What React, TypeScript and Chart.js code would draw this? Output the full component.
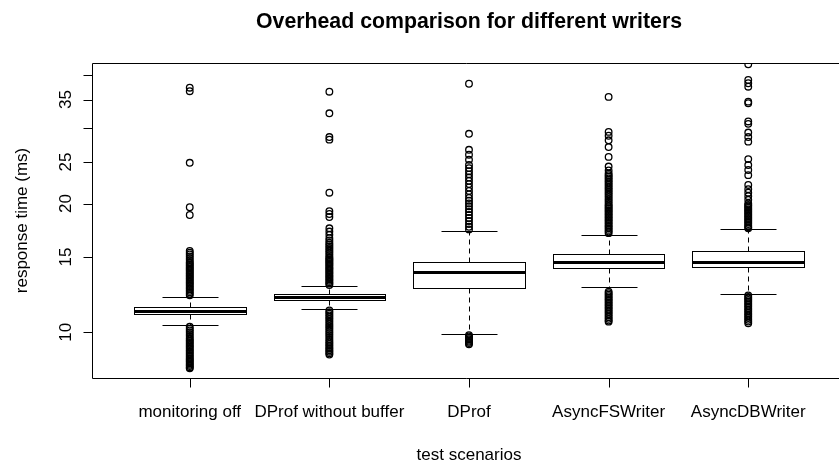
import React, { useEffect, useRef } from "react";
import { Chart, registerables } from "chart.js";

Chart.register(...registerables);

const chartTitle = "Overhead comparison for different writers";
const xAxisTitle = "test scenarios";
const yAxisTitle = "response time (ms)";

const categories = ["monitoring off", "DProf without buffer", "DProf", "AsyncFSWriter", "AsyncDBWriter"];

const lowerWhisker = [10.4, 11.32, 9.91, 12.78, 12.27];
const q1 = [11.02, 11.9, 12.68, 14.12, 14.2];
const median = [11.24, 12.08, 13.82, 14.58, 14.63];
const q3 = [11.48, 12.27, 14.63, 15.24, 15.51];
const upperWhisker = [12.12, 12.86, 17.28, 16.9, 17.43];

const yTicks = [10, 15, 20, 25, 30, 35, 40];
const yTickLabels = ["10", "15", "20", "25", "", "35", ""];

const outMonitoringOff = [
  37.3, 36.6, 24.9, 19.6, 18.8, 15.5, 15.35, 15.2, 15.05, 14.9, 14.75, 14.6, 14.5, 14.4, 14.3, 14.2, 14.1, 14.0,
  13.9, 13.8, 13.7, 13.6, 13.5, 13.4, 13.3, 13.2, 13.1, 13.0, 12.9, 12.8, 12.7, 12.6, 12.5, 12.4, 12.3, 12.2,
  10.3, 10.2, 10.1, 10.0, 9.9, 9.8, 9.7, 9.62, 9.55, 9.48, 9.4, 9.33, 9.26, 9.19, 9.12, 9.05, 8.98, 8.91, 8.84,
  8.77, 8.7, 8.64, 8.58, 8.52, 8.46, 8.4, 8.34, 8.28, 8.24,
];
const outDProfNoBuffer = [
  36.5, 32.5, 28.6, 28.2, 21.2, 19.2, 18.9, 18.6, 17.5, 17.2, 16.9, 16.6, 16.4, 16.2, 16.05, 15.9, 15.75, 15.6,
  15.45, 15.3, 15.15, 15.0, 14.9, 14.8, 14.7, 14.6, 14.5, 14.4, 14.3, 14.2, 14.1, 14.0, 13.9, 13.8, 13.7, 13.6,
  13.5, 13.4, 13.3, 13.2, 13.1, 13.0, 12.9, 11.25, 11.15, 11.05, 10.95, 10.85, 10.75, 10.65, 10.55, 10.45, 10.35,
  10.25, 10.15, 10.05, 9.95, 9.85, 9.75, 9.65, 9.55, 9.47, 9.39, 9.31, 9.23, 9.15, 9.08, 9.01, 8.94, 8.87,
];
const outDProf = [
  38.1, 29.1, 26.7, 26.0, 25.3, 24.6, 24.2, 23.8, 23.4, 23.0, 22.6, 22.2, 21.8, 21.4, 21.0, 20.6, 20.3, 20.0,
  19.7, 19.4, 19.1, 18.8, 18.5, 18.2, 17.9, 17.65, 17.4, 9.85, 9.78, 9.7, 9.63, 9.56, 9.5, 9.44, 9.38,
];
const outAsyncFS = [
  35.5, 29.4, 28.8, 28.1, 27.1, 25.7, 24.4, 23.9, 23.5, 23.3, 23.1, 22.9, 22.7, 22.5, 22.3, 22.1, 21.9, 21.7,
  21.5, 21.3, 21.1, 20.9, 20.7, 20.5, 20.3, 20.1, 19.9, 19.75, 19.6, 19.45, 19.3, 19.15, 19.0, 18.85, 18.7,
  18.55, 18.4, 18.25, 18.1, 17.95, 17.8, 17.65, 17.5, 17.35, 17.2, 17.05, 12.45, 12.35, 12.25, 12.15, 12.05,
  11.95, 11.85, 11.75, 11.65, 11.55, 11.45, 11.35, 11.25, 11.15, 11.05, 10.95, 10.85, 10.75, 10.65, 10.59,
];
const outAsyncDB = [
  42.3, 38.9, 38.2, 37.5, 34.6, 34.3, 31.1, 30.7, 29.3, 28.6, 27.9, 25.4, 24.6, 23.95, 23.3, 22.1, 21.6, 21.2,
  20.8, 20.4, 20.0, 19.85, 19.7, 19.55, 19.4, 19.25, 19.1, 18.95, 18.8, 18.65, 18.5, 18.35, 18.2, 18.05, 17.9,
  17.75, 17.6, 17.5, 12.2, 12.1, 12.0, 11.9, 11.8, 11.7, 11.6, 11.5, 11.4, 11.3, 11.2, 11.1, 11.0, 10.9, 10.8,
  10.7, 10.6, 10.5,
];

const FONT = '"Liberation Sans", Arial, Helvetica, sans-serif';

export default function App() {
  const ref = useRef<HTMLCanvasElement>(null);

  useEffect(() => {
    const canvas = ref.current;
    if (!canvas) return;
    const outlierSets = [outMonitoringOff, outDProfNoBuffer, outDProf, outAsyncFS, outAsyncDB];
    const points = outlierSets.flatMap((arr, i) => arr.map((v) => ({ x: i + 1, y: v })));

    const rPlugin = {
      id: "rbox",
      beforeDatasetsDraw(chart: any) {
        const { ctx } = chart;
        const x = chart.scales.x;
        const y = chart.scales.y;
        const px = (v: number) => Math.round(x.getPixelForValue(v)) + 0.5;
        const py = (v: number) => Math.round(y.getPixelForValue(v)) + 0.5;
        const line = (x1: number, y1: number, x2: number, y2: number) => {
          ctx.beginPath();
          ctx.moveTo(x1, y1);
          ctx.lineTo(x2, y2);
          ctx.stroke();
        };
        ctx.save();
        ctx.strokeStyle = "#000";
        categories.forEach((_, i) => {
          const c = i + 1;
          const xc = px(c);
          const xl = px(c - 0.4);
          const xr = px(c + 0.4);
          const sl = px(c - 0.2);
          const sr = px(c + 0.2);
          ctx.lineWidth = 1;
          ctx.setLineDash([5, 4]);
          line(xc, py(q3[i]), xc, py(upperWhisker[i]));
          line(xc, py(q1[i]), xc, py(lowerWhisker[i]));
          ctx.setLineDash([]);
          line(sl, py(upperWhisker[i]), sr, py(upperWhisker[i]));
          line(sl, py(lowerWhisker[i]), sr, py(lowerWhisker[i]));
          ctx.strokeRect(xl, py(q3[i]), xr - xl, py(q1[i]) - py(q3[i]));
          ctx.lineWidth = 3;
          line(xl, py(median[i]), xr, py(median[i]));
        });
        ctx.restore();
      },
      afterDraw(chart: any) {
        const { ctx, chartArea } = chart;
        const x = chart.scales.x;
        const y = chart.scales.y;
        const line = (x1: number, y1: number, x2: number, y2: number) => {
          ctx.beginPath();
          ctx.moveTo(x1, y1);
          ctx.lineTo(x2, y2);
          ctx.stroke();
        };
        ctx.save();
        ctx.strokeStyle = "#000";
        ctx.fillStyle = "#000";
        ctx.lineWidth = 1;
        const L = Math.round(chartArea.left) + 0.5;
        const T = Math.round(chartArea.top) + 0.5;
        const B = Math.round(chartArea.bottom) + 0.5;
        const R = chartArea.right + 20;
        line(L, T, R, T);
        line(L, B, R, B);
        line(L, T, L, B);

        ctx.font = `17px ${FONT}`;
        yTicks.forEach((v, k) => {
          const yy = Math.round(y.getPixelForValue(v)) + 0.5;
          line(L - 9, yy, L, yy);
          const lab = yTickLabels[k];
          if (lab) {
            ctx.save();
            ctx.translate(71, y.getPixelForValue(v));
            ctx.rotate(-Math.PI / 2);
            ctx.textAlign = "center";
            ctx.textBaseline = "alphabetic";
            ctx.fillText(lab, 0, 0);
            ctx.restore();
          }
        });

        categories.forEach((lab, i) => {
          const xc = Math.round(x.getPixelForValue(i + 1)) + 0.5;
          line(xc, B, xc, B + 9);
          ctx.textAlign = "center";
          ctx.textBaseline = "alphabetic";
          ctx.fillText(lab, x.getPixelForValue(i + 1), 417);
        });

        const mid = x.getPixelForValue(3);
        ctx.textAlign = "center";
        ctx.fillText(xAxisTitle, mid, 460);

        ctx.save();
        ctx.translate(27, (chartArea.top + chartArea.bottom) / 2);
        ctx.rotate(-Math.PI / 2);
        ctx.textAlign = "center";
        ctx.fillText(yAxisTitle, 0, 0);
        ctx.restore();

        ctx.font = `bold 21.3px ${FONT}`;
        ctx.textAlign = "center";
        ctx.fillText(chartTitle, mid, 28);
        ctx.restore();
      },
    };

    const chart = new Chart(canvas, {
      type: "scatter",
      data: {
        datasets: [
          {
            data: points,
            pointRadius: 3.3,
            pointHoverRadius: 3.3,
            borderColor: "#000",
            backgroundColor: "rgba(0,0,0,0)",
            borderWidth: 1.3,
            clip: 0,
          } as any,
        ],
      },
      options: {
        animation: false,
        responsive: false,
        devicePixelRatio: 1,
        events: [],
        layout: { padding: { left: 92, top: 63, right: 0, bottom: 86 } },
        plugins: {
          legend: { display: false },
          tooltip: { enabled: false },
          title: { display: false },
        },
        scales: {
          x: { type: "linear", min: 0.3, max: 5.617, display: false },
          y: { type: "logarithmic", min: 7.82, max: 42.6, display: false },
        },
      },
      plugins: [rPlugin],
    });
    return () => chart.destroy();
  }, []);

  return (
    <div style={{ position: "fixed", left: 0, top: 0, width: 839, height: 464, background: "#fff", overflow: "hidden" }}>
      <canvas ref={ref} width={839} height={464} style={{ display: "block", width: 839, height: 464 }} />
    </div>
  );
}
